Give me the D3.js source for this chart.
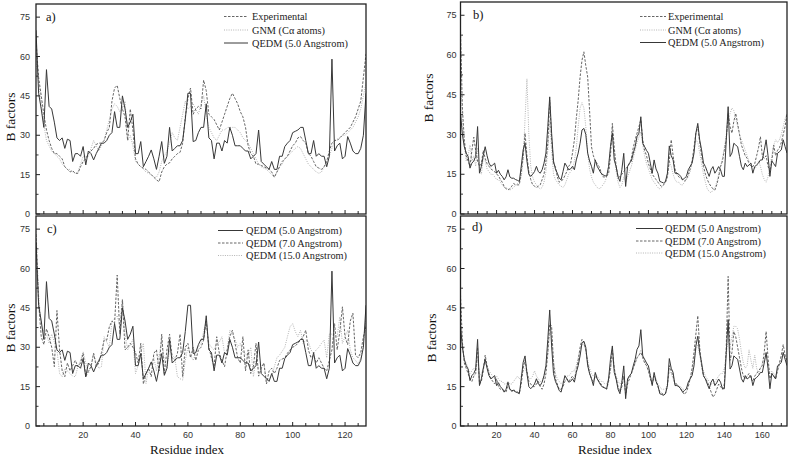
<!DOCTYPE html>
<html><head><meta charset="utf-8">
<script src="https://cdn.jsdelivr.net/npm/d3@7"></script>
<style>body{margin:0;background:#fff}svg{display:block}</style>
</head><body><svg id="chart" width="794" height="458"></svg>
<script>
// ---------- Protein 1 (residues 2..128) ----------
const residueStart1 = 2, residueEnd1 = 128;
const exp1 = [66,52,45,38,32,28,25,23,23,22, 21,18,17,16,16.5,15.5,15.5,18,20,21, 23,24,25,26.5,27,27,28,31,33,43, 48,49,44,40,37,28,40,32,21,19, 18,17.5,17,16,15,14,13,12.3,16,18, 19,19.5,21,22,23,23.5,27,37,44,48, 38,40,41,40,51,47,38,37,36,34, 32,35,38,41,44,46,44,42,39,37, 33,26,23,22,19,19,18.5,18,17.5,17, 16,14,16,18,20,21,22,24,26,27, 29,29.5,28,27,23,22,20,18,17.5,17, 18,20,24,27,28,28,29,30,31,32, 33,35,37,40,43,52,61];
const gnm1 = [59,50,43,34,28,26,24,23,22,21, 19,18,17,17,16,15.5,16,19,22,22, 22,25,28,26,24,26,28,32,36,40, 42,41,39,40,43,28,30,26,20,19, 18,17,16,15.5,15,14,14,16,20,22, 24,27,31,29,28,33,38,43,40,41, 42,40,38,42,45,38,33,31,29,28, 30,32,32,33,33,33,33,32,31,29, 28,27,25,23,21,19,18,17.5,17,16, 15,14,16,18,19,21,22,23,24,25, 25.7,25,23,21,19,18,17,16,15.5,16, 18,20,22,25,28,28.5,29,30,30,31, 32,33,35,37,40,45,50];
const qedm5_1 = [70,46,40,33,55,41,40,35,29,28, 29,25,28.5,28,20,23,23,22,25.7,18.7, 24,23,20.6,23,25,27,27,28,30,31, 39,33,33,45,40,33,35,38,23,23, 27.6,18,20,22,24.4,21,17,22,27.6,19.3, 22,33,24,25,26,26,28,36,46,46, 27.6,28,31,33,33,42,29,28,21,27, 27,24,28,27,33,30,26,26,26,25, 24,24,21,22,23,32,20,19,18,17, 20,17,17,22,22,25.7,27,28,31,31.5, 32,33,33,28,23,23,28,22,23,22, 22,18,22,59,24,26,27,21,22,29.5, 27,24,23,23,25,30,46];
const qedm7_1 = [73,47,34,31,37,34,30,22.6,44,29, 21,18.8,24,21,23,25,22.6,24,27.7,18.8, 21,22.6,27.7,22.6,24,28,32.7,32.7,37.8,40, 39,57.5,35,48,29,30,31.5,30,28,24, 31.5,16,20,22,18.8,27.7,29,21,35,20, 29,35,26,25,27.7,35,18.8,30,31.5,26, 30,25,29,30,32.7,40,30,26,22.6,34, 27.7,25,22.6,29,34,36.5,31.5,26,24,34, 21,29,20,22.6,31.5,19,22,24,16,21, 22,20,22,25,25.5,26,27.7,29,30,30.5, 31.5,32.7,34,36.5,29,26,27,24,26,24, 22,21,25,29,39,29,36,45.4,34,31, 40,43,27,26,28,34,38];
const qedm15_1 = [75,50,38,36,35,31.5,35,32,29,20, 18.8,21.8,21,20,19,18.8,22.6,25,28.3,24, 20,22.6,27.7,24,22,22.6,34,32,30,40, 41,42,38,48.6,35,29,31,33,20,23, 28,31.5,16.2,22,24,26,21,27,32.7,25, 22,29,27,26,18.8,18,17.5,25,30,27, 25,27.7,30,31.5,36,40,31.5,30,29,31.5, 32,34,27.7,29,36.5,35,33,30,31.5,28, 27.7,26,30,18.8,25,22,22.6,24,17.5,18, 18.8,22.6,26,27,28.5,30,34,37.8,39,36, 34,36.5,31.5,32.7,32,29,27.7,29,30,31.5, 32.7,26,35,35,35,34,41.6,31.5,34,36.5, 29,26,25,23.6,26,32,40];

// ---------- Protein 2 (residues 1..173) ----------
const residueStart2 = 1, residueEnd2 = 173;
const exp2 = [69,40,28,22,20,18,24,29,24,20, 18,19,24,21,19,18,17,16.5,16,15, 14.5,13,12,10.4,9.5,9.1,9.5,10.5,11.5,11, 11,11,16,21.7,30.5,22,16,13,11,10.5, 10,10.5,11,13,15,20,26.7,43,28,19, 17.9,14,12,12.5,13,14.5,16,18,19,23, 28,36,43,51.7,58,61.2,56,51.7,39,25.4, 22,20,19,17.9,16,14,14,14.5,15,21.7, 34.2,25,18,14,14,15,16,17,17.9,19, 21,25,28,30.5,33,35.5,28,24,22,19, 17,15,14,13,12,11,10.4,11,12,14, 20,28,22,17,15,14,13.5,13,12.5,13, 15,17,20,25,30.5,33,27,22,17.9,15, 13,11.5,10.4,9.5,9,11,14,17.9,20,24, 28,38,33,30.5,35,38,34,30,26,24, 22,21,19,18,17.9,19,22,25,29.2,22, 21,22,18,16,20,26,22,24,25,27, 30,33,38];
const gnm2 = [55,35,26,20,22,26,20,22,18,25, 17,15,21,20,17,16,15,15,14,13, 13,12,11,10,10,9.5,9,9.5,10,11, 11.5,12,14,20,36,51,30,18,14,12, 11,10,9.5,10,12,16,24,35,24,15, 13,12,11,10.5,10,11,13,15,16,17, 20,25,33,40,42,40,33,23,17,14, 12,11,10,9.5,10,11,12,14,18,24, 33,22,16,12,10,11,14,12,14,16, 18,21,24,27,29,31,26,22,19,17, 15,13,12,11,10,9.5,10,11,12,15, 20,18,15,13,12,12,11,11,12,13, 14,16,20,24,28,27,23,19,15,12, 9.5,8.5,8,9,10,12,15,18,21,25, 30,34,38,40,39,36,33,30,28,26, 24,22,20,19,18,17,18,20,18,15, 13,12,14,18,22,26,28,27,28,30, 33,36,38];
const qedm5_2 = [38,30,25.4,23,21.7,17.3,19.2,20,21.7,33, 15.4,18,22,25.4,22,19.2,18,18.5,19.2,15.4, 16.5,15,14.2,12.9,14,16.7,14,13.5,13.5,13, 12.7,12.3,18,24.2,26.7,20,15,14.2,15,16, 18,16,15.4,16.7,19.2,23,33,44.2,30.5,20, 17,15.4,13.5,12.9,16,19.2,18,16.7,17,18, 16.7,20.4,23,26.7,31.7,32.3,30,23,20,18, 15.4,20.4,18,16.7,15.4,14.8,14.5,14.2,17.9,25.4, 30.5,20.4,17.9,14,12.3,16.7,22.9,10.4,17.9,19.2, 20,22.9,25.4,29.2,30.5,36.7,26.7,25.4,24,22.9, 19.2,15.4,20.4,17,15.4,12.3,12,11.7,12.3,15.4, 25.7,22,20.4,15.4,15.4,15,14.2,12.9,13.5,14.2, 16.7,18,19.2,22.9,30.5,34.2,28,24.2,19.2,17.9, 16,14.2,16.7,17.9,15.4,16.5,17.9,16.7,14.2,14.2, 28,40.5,21.7,23,26.7,26,25.4,21.7,18,16.7, 19.2,17.9,18.5,19.2,15.4,17.9,18.5,19.2,20.4,20.4, 24,28,22,14.2,20,19,17.9,22.9,23.5,24.2, 28,25.4,23];
const qedm7_2 = [50,32,24,22,20,18,17,19,20,30, 16,17,21,27,23,20,18,17,16,18, 15,14,14,13.5,13,15,14,13,14,13, 13,12.5,16,22,25,21,17,16,15,15, 16,17,15,14,16,20,28,39,38,24, 18,16,14,14,15,17,18,17,18,19, 18,21,25,30,33,32,29,24,20,18, 17,19,18,17,16,15,14.5,14,17,22, 29,22,18,15,13,15,19,12,16,18, 20,22,24,26,27,28,26,24,23,21, 18,16,19,17,15,13,12.5,12,12.5,15, 23,21,19,16,16,15,14,13,12,13, 15,18,22,28,35,42,30,23,19,18, 17,15,13,11,12,14,16,15,14,16, 30,57,25,28,36,34,30,26,22,19, 18,19,20,18,17,19,20,21,22,23, 28,36,26,18,20,19,18,21,24,27, 31,27,25];
const qedm15_2 = [45,30,25,24,22,20,21,22,21,26, 19,20,22,24,23,21,20,19,18,19, 18,17,17,16,16,17,16,16,17,18, 19,18,19,21,22,20,18,18,19,21, 19,18,17,17,19,22,27,36,34,25, 20,18,17,16,17,18,19,19,20,21, 21,23,26,29,31,31,29,25,22,20, 19,20,19,18,17,17,16,16,18,21, 26,22,19,17,16,17,19,15,17,19, 20,22,24,26,27,29,27,25,23,21, 19,18,19,18,16,15,14,14,14,16, 21,20,18,16,16,15,15,14,14,14, 16,18,21,25,29,31,27,23,21,19, 18,17,16,16,17,18,19,20,20,22, 27,33,30,34,38,38,37,33,28,24, 22,23,29,25,22,27,22,20,22,24, 26,27,24,20,21,20,19,21,23,25, 28,26,24];

const yTickValues = [0, 15, 30, 45, 60, 75];
const xTickLabels1 = [20, 40, 60, 80, 100, 120];
const xTickLabels2 = [20, 40, 60, 80, 100, 120, 140, 160];
const legendTop = ["Experimental", "GNM (C\u03b1 atoms)", "QEDM (5.0 Angstrom)"];
const legendBottom = ["QEDM (5.0 Angstrom)", "QEDM (7.0 Angstrom)", "QEDM (15.0 Angstrom)"];
const panelTags = ["a)", "b)", "c)", "d)"];

// ---------- styles ----------
const styleDash = {stroke:"#666", dash:"2.5,1.5", w:1};
const styleLight = {stroke:"#b4b4b4", dash:"1,1.3", w:1};
const styleSolid = {stroke:"#383838", dash:null, w:1};

const svg = d3.select("#chart");
svg.append("rect").attr("width",794).attr("height",458).attr("fill","#fff");
const defs = svg.append("defs");

const panels = [
  {x0:36, x1:366, y0:4, y1:214, start:residueStart1, end:residueEnd1, series:[exp1,gnm1,qedm5_1], styles:[styleDash,styleLight,styleSolid], legend:legendTop, legX:224, legL:24, legTX:252, legY:[20,33.5,46.5], tag:[46,21], ylab:[10,117], xLabels:null, tickOff:6},
  {x0:460.5, x1:787, y0:2, y1:214, start:residueStart2, end:residueEnd2, series:[exp2,gnm2,qedm5_2], styles:[styleDash,styleLight,styleSolid], legend:legendTop, legX:640, legL:26, legTX:668, legY:[20,33.5,46], tag:[473,19], ylab:[428,98], xLabels:null, tickOff:4},
  {x0:36, x1:366, y0:216, y1:426, start:residueStart1, end:residueEnd1, series:[qedm5_1,qedm7_1,qedm15_1], styles:[styleSolid,styleDash,styleLight], legend:legendBottom, legX:218, legL:25, legTX:246, legY:[234,246.5,259], tag:[47,233], ylab:[10,328], xLabels:xTickLabels1, tickOff:6, xlab:[187,454]},
  {x0:460.5, x1:787, y0:216, y1:426, start:residueStart2, end:residueEnd2, series:[qedm5_2,qedm7_2,qedm15_2], styles:[styleSolid,styleDash,styleLight], legend:legendBottom, legX:636, legL:27, legTX:665, legY:[232,244.5,256.5], tag:[472,231], ylab:[431,338], xLabels:xTickLabels2, tickOff:4, xlab:[615,454]}
];

panels.forEach((p, pi) => {
  const x = d3.scaleLinear().domain([p.start, p.end]).range([p.x0, p.x1]);
  const y = d3.scaleLinear().domain([0, 80]).range([p.y1, p.y0]);
  const g = svg.append("g");
  const cid = "clip" + pi;
  defs.append("clipPath").attr("id", cid).append("rect")
    .attr("x", p.x0).attr("y", p.y0 - 1).attr("width", p.x1 - p.x0).attr("height", p.y1 - p.y0 + 1);

  // series lines: light first, solid last
  const rank = st => st === styleLight ? 0 : (st === styleDash ? 1 : 2);
  [0,1,2].sort((a,b)=> rank(p.styles[a]) - rank(p.styles[b])).forEach(si => {
    const data = p.series[si].map((v,i)=>[p.start+i, v]);
    const st = p.styles[si];
    g.append("path").attr("clip-path", `url(#${cid})`)
      .attr("d", d3.line().x(d=>x(d[0])).y(d=>y(d[1]))(data))
      .attr("fill","none").attr("stroke", st.stroke).attr("stroke-width", st.w)
      .attr("stroke-dasharray", st.dash);
  });

  // frame
  g.append("rect").attr("x", p.x0).attr("y", p.y0).attr("width", p.x1-p.x0).attr("height", p.y1-p.y0)
    .attr("fill","none").attr("stroke","#222").attr("stroke-width",1.3);

  // y axis ticks (inward) + labels
  yTickValues.forEach(v => {
    g.append("line").attr("x1",p.x0).attr("x2",p.x0+4).attr("y1",y(v)).attr("y2",y(v)).attr("stroke","#222").attr("stroke-width",1);
    g.append("text").attr("x",p.x0-p.tickOff).attr("y",y(v)).attr("dy","0.35em").attr("text-anchor","end")
      .attr("font-family","'Liberation Sans', Arial, sans-serif").attr("font-size",9).attr("fill","#333").text(v);
  });
  d3.range(7.5, 80, 15).forEach(v => {
    g.append("line").attr("x1",p.x0).attr("x2",p.x0+2.5).attr("y1",y(v)).attr("y2",y(v)).attr("stroke","#222").attr("stroke-width",0.9);
  });

  // x axis ticks (inward, upward)
  d3.range(5, p.end+1, 5).forEach(v => {
    if (v <= p.start) return;
    const major = v % 20 === 0;
    g.append("line").attr("x1",x(v)).attr("x2",x(v)).attr("y1",p.y1).attr("y2",p.y1-(major?4:3))
      .attr("stroke","#222").attr("stroke-width",1);
  });
  if (p.xLabels) {
    p.xLabels.forEach(v => {
      g.append("text").attr("x",x(v)).attr("y",p.y1+11.5).attr("text-anchor","middle")
        .attr("font-family","'Liberation Sans', Arial, sans-serif").attr("font-size",9).attr("fill","#333").text(v);
    });
    g.append("text").attr("x",p.xlab[0]).attr("y",p.xlab[1]).attr("text-anchor","middle")
      .attr("font-family","'Liberation Serif', 'Times New Roman', serif").attr("font-size",13).attr("fill","#111").text("Residue index");
  }

  // y axis title
  g.append("text").attr("transform",`translate(${p.ylab[0]},${p.ylab[1]}) rotate(-90)`)
    .attr("dy","0.35em").attr("text-anchor","middle")
    .attr("font-family","'Liberation Serif', 'Times New Roman', serif").attr("font-size",13.5).attr("fill","#111").text("B factors");

  // panel tag
  g.append("text").attr("x",p.tag[0]).attr("y",p.tag[1])
    .attr("font-family","'Liberation Serif', 'Times New Roman', serif").attr("font-size",12.5).attr("fill","#111").text(panelTags[pi]);

  // legend
  p.legend.forEach((name, li) => {
    const st = p.styles[li];
    const ly = p.legY[li] - 3.5;
    g.append("line").attr("x1",p.legX).attr("x2",p.legX+p.legL).attr("y1",ly).attr("y2",ly)
      .attr("stroke",st.stroke).attr("stroke-width",st.w).attr("stroke-dasharray",st.dash);
    g.append("text").attr("x",p.legTX).attr("y",p.legY[li])
      .attr("font-family","'Liberation Serif', 'Times New Roman', serif").attr("font-size",10.3).attr("fill","#222").text(name);
  });
});
</script></body></html>
